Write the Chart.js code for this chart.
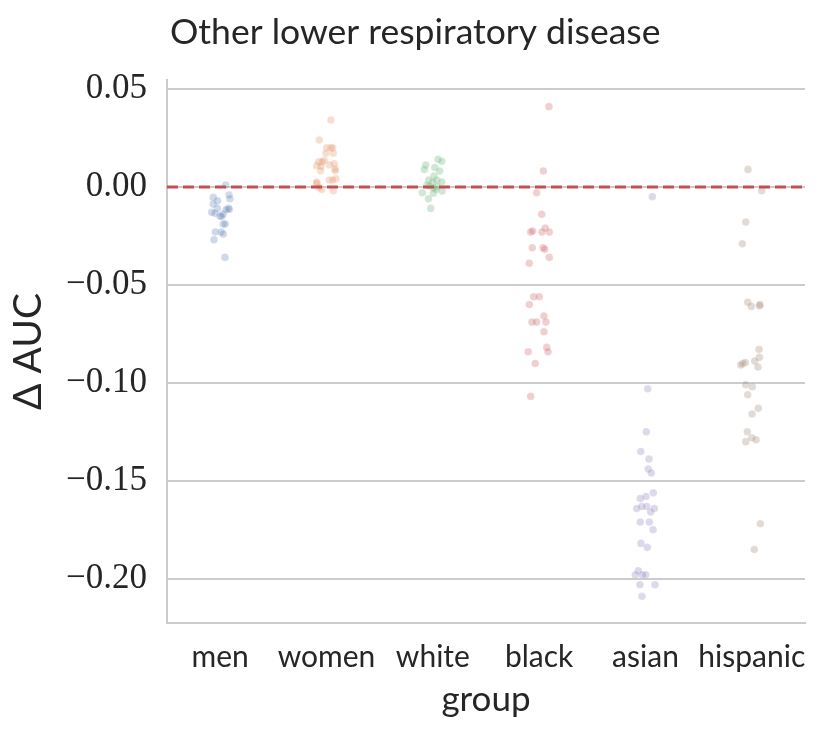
<!DOCTYPE html>
<html>
<head>
<meta charset="utf-8">
<script src="https://cdn.jsdelivr.net/npm/chart.js@4.4.1/dist/chart.umd.min.js"></script>
<style>
  html, body { margin: 0; padding: 0; background: #fff; }
  #wrap { width: 831px; height: 734px; }
</style>
</head>
<body>
<div id="wrap"><canvas id="chart"></canvas></div>
<script>
// Categories and tick labels
const groups = ['men', 'women', 'white', 'black', 'asian', 'hispanic'];
const yTicks = [-0.20, -0.15, -0.10, -0.05, 0.00, 0.05];

// Delta AUC per run, with the strip jitter (category units)
const menValues = [0.001, -0.0041, -0.0060, -0.0053, -0.0070, -0.0087, -0.0109, -0.0109, -0.0116, -0.0113, -0.0129,
  -0.0134, -0.0148, -0.0138, -0.0150, -0.0189, -0.0189, -0.0230, -0.0230, -0.0240, -0.0269, -0.0359];
const menJitter = [0.052, 0.083, 0.092, -0.065, -0.024, -0.065, -0.027, 0.076, 0.055, 0.086, -0.080,
  -0.049, -0.002, 0.029, 0.014, 0.029, 0.048, -0.046, 0.010, 0.029, -0.058, 0.045];

const womenValues = [0.0342, 0.0240, 0.0200, 0.0200, 0.0200, 0.0172, 0.0172, 0.0129, 0.0136, 0.0129, 0.0109, 0.0106,
  0.0114, 0.0119, 0.0093, 0.0083, 0.0083, 0.0042, 0.0036, 0.0036, 0.0026, 0.0019, -0.0012, -0.0019, -0.0002];
const womenJitter = [0.042, -0.068, 0.002, 0.040, 0.058, -0.005, 0.064, -0.073, -0.021, -0.040, -0.092, -0.052,
  0.026, 0.073, 0.080, 0.083, -0.055, 0.089, 0.026, 0.058, -0.092, -0.092, -0.045, 0.064, -0.068];

const whiteValues = [0.0141, 0.0131, 0.0112, 0.0090, 0.0100, 0.0082, 0.0056, 0.0036, 0.0036, 0.0026, 0.0026, 0.0010,
  0.0003, -0.0005, -0.0020, -0.0029, -0.0032, -0.0060, -0.0109, -0.0012, 0.0005];
const whiteJitter = [0.049, 0.084, -0.067, -0.080, 0.018, 0.065, 0.011, -0.039, 0.037, 0.084, -0.001, -0.055,
  0.040, 0.005, 0.087, -0.099, 0.005, -0.042, -0.020, 0.030, -0.031];

const blackValues = [0.0410, 0.0082, -0.0029, -0.0139, -0.0209, -0.0230, -0.0224, -0.0230, -0.0230, -0.0310, -0.0310,
  -0.0318, -0.0359, -0.0389, -0.0560, -0.0560, -0.0599, -0.0658, -0.0689, -0.0689, -0.0689, -0.0738, -0.0818,
  -0.0840, -0.0840, -0.0900, -0.1068];
const blackJitter = [0.092, 0.039, -0.024, 0.024, 0.057, -0.080, -0.061, 0.026, 0.095, -0.065, 0.036,
  0.052, 0.095, -0.093, -0.052, 0.001, -0.093, 0.045, -0.068, -0.024, 0.064, 0.045, 0.071,
  0.083, -0.103, -0.037, -0.080];

const asianValues = [-0.0049, -0.1029, -0.1248, -0.1349, -0.1388, -0.1439, -0.1459, -0.1560, -0.1589, -0.1579,
  -0.1640, -0.1630, -0.1630, -0.1640, -0.1658, -0.1709, -0.1709, -0.1748, -0.1818, -0.1838, -0.1958, -0.1978,
  -0.1978, -0.1978, -0.2029, -0.2029, -0.2088];
const asianJitter = [0.064, 0.021, 0.008, -0.045, 0.033, 0.026, 0.055, 0.073, -0.049, 0.005,
  -0.083, -0.036, 0.011, 0.083, 0.049, -0.049, 0.036, 0.071, -0.042, 0.017, -0.068, -0.096,
  -0.030, 0.002, -0.052, 0.089, -0.033];

const hispanicValues = [0.0090, -0.0019, -0.0179, -0.0289, -0.0588, -0.0609, -0.0606, -0.0600, -0.0828, -0.0869,
  -0.0888, -0.0900, -0.0895, -0.0908, -0.0918, -0.1009, -0.1019, -0.1060, -0.1129, -0.1158, -0.1248, -0.1299,
  -0.1279, -0.1289, -0.1718, -0.1849];
const hispanicJitter = [-0.036, 0.093, -0.057, -0.089, -0.039, -0.005, 0.071, 0.077, 0.068, 0.071,
  0.027, -0.086, -0.061, -0.104, 0.058, -0.057, 0.005, -0.039, 0.061, 0.002, -0.042, -0.057,
  -0.001, 0.040, 0.080, 0.023];

const groupValues = [menValues, womenValues, whiteValues, blackValues, asianValues, hispanicValues];
const groupJitter = [menJitter, womenJitter, whiteJitter, blackJitter, asianJitter, hispanicJitter];
const groupColors = ['76, 114, 176', '221, 132, 82', '85, 168, 104', '196, 78, 82', '129, 114, 179', '147, 120, 96'];

const textColor = '#262626';
const gridColor = '#cccccc';

// Build one scatter dataset per group
const datasets = groups.map((g, i) => ({
  label: g,
  order: 1,
  data: groupValues[i].map((v, j) => ({ x: i + groupJitter[i][j], y: v })),
  backgroundColor: `rgba(${groupColors[i]}, 0.27)`,
  borderColor: 'rgba(255, 255, 255, 0.3)',
  borderWidth: 0.5,
  pointRadius: 3.8,
  pointHoverRadius: 3.8
}));

// Zero reference line
datasets.push({
  type: 'line',
  label: 'zero',
  order: 0,
  data: [{ x: -0.5, y: 0 }, { x: groups.length - 0.5, y: 0 }],
  borderColor: '#c44e52',
  borderWidth: 3,
  borderDash: [11, 5],
  pointRadius: 0,
  fill: false
});

// Title drawn at the left edge of the plot area
const titlePlugin = {
  id: 'leftTitle',
  afterDraw(chart) {
    const ctx = chart.ctx;
    ctx.save();
    ctx.font = '35.5px Lato';
    ctx.fillStyle = textColor;
    ctx.textAlign = 'left';
    ctx.textBaseline = 'alphabetic';
    ctx.fillText('Other lower respiratory disease', 170, 44);
    ctx.restore();
  }
};

new Chart(document.getElementById('chart'), {
  type: 'scatter',
  data: { datasets },
  plugins: [titlePlugin],
  options: {
    responsive: true,
    maintainAspectRatio: false,
    animation: false,
    layout: { padding: { top: 80, right: 26, left: 0, bottom: 0 } },
    plugins: {
      legend: { display: false },
      tooltip: { enabled: false }
    },
    scales: {
      x: {
        type: 'linear',
        min: -0.5,
        max: groups.length - 0.5,
        afterFit: (scale) => { scale.height = 111; },
        afterBuildTicks: (scale) => { scale.ticks = groups.map((g, i) => ({ value: i })); },
        ticks: {
          color: textColor,
          font: { family: 'Lato', size: 30 },
          padding: 16,
          maxRotation: 0,
          autoSkip: false,
          callback: (v) => groups[v]
        },
        grid: { display: false, drawTicks: false },
        border: { display: true, color: gridColor, width: 2 },
        title: {
          display: true,
          text: 'group',
          color: textColor,
          font: { family: 'Lato', size: 35 },
          padding: { top: 0, bottom: 13 }
        }
      },
      y: {
        min: -0.2224,
        max: 0.0546,
        afterFit: (scale) => { scale.width = 167; },
        afterBuildTicks: (scale) => { scale.ticks = yTicks.map(v => ({ value: v })); },
        ticks: {
          color: textColor,
          font: { family: 'Liberation Serif', size: 35 },
          padding: 20,
          callback: (v) => v.toFixed(2).replace('-', '\u2212')
        },
        grid: { color: gridColor, lineWidth: 2, drawTicks: false },
        border: { display: true, color: gridColor, width: 2 },
        title: {
          display: true,
          text: '\u0394 AUC',
          color: textColor,
          font: { family: 'Lato', size: 39 },
          padding: { top: 5, bottom: 0 }
        }
      }
    }
  }
});
</script>
</body>
</html>
